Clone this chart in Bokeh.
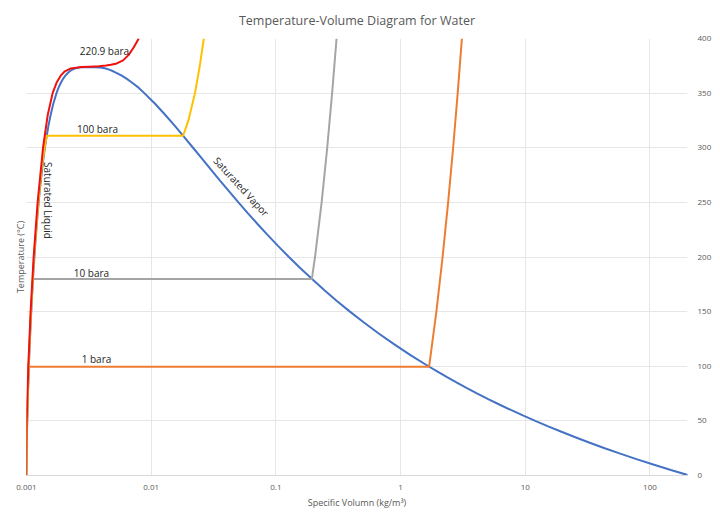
import math
from bokeh.plotting import figure
from bokeh.models import LinearAxis, Range1d, FixedTicker, PrintfTickFormatter, Label
from bokeh.embed import file_html
from bokeh.resources import INLINE

sat_T = [0.01, 5, 10, 15, 20, 25, 30, 35, 40, 45, 50, 55, 60, 65, 70, 75, 80, 85, 90, 95,
         100, 110, 120, 130, 140, 150, 160, 170, 180, 190, 200, 210, 220, 230, 240, 250,
         260, 270, 280, 290, 300, 310, 320, 330, 340, 350, 355, 360, 363, 366, 368, 370,
         371.5, 372.7, 373.5, 373.95]
sat_vf = [0.001000, 0.001000, 0.001000, 0.001001, 0.001002, 0.001003, 0.001004, 0.001006,
          0.001008, 0.001010, 0.001012, 0.001015, 0.001017, 0.001020, 0.001023, 0.001026,
          0.001029, 0.001032, 0.001036, 0.001040, 0.001043, 0.001052, 0.001060, 0.001070,
          0.001080, 0.001091, 0.001102, 0.001114, 0.001127, 0.001141, 0.001157, 0.001173,
          0.001190, 0.001209, 0.001229, 0.001252, 0.001276, 0.001303, 0.001333, 0.001366,
          0.001404, 0.001448, 0.001499, 0.001561, 0.001638, 0.001740, 0.001807, 0.001895,
          0.001962, 0.002050, 0.002125, 0.002222, 0.002330, 0.002470, 0.002650, 0.003106]
sat_vg = [206.00, 147.03, 106.32, 77.885, 57.762, 43.340, 32.879, 25.205, 19.515, 15.251,
          12.026, 9.5639, 7.6670, 6.1935, 5.0396, 4.1291, 3.4053, 2.8261, 2.3593, 1.9808,
          1.6720, 1.2094, 0.89133, 0.66808, 0.50850, 0.39248, 0.30666, 0.24260, 0.19405,
          0.15654, 0.12721, 0.10442, 0.08609, 0.07150, 0.05970, 0.05008, 0.04217, 0.03562,
          0.03015, 0.02556, 0.02166, 0.01834, 0.01548, 0.01298, 0.01079, 0.008806, 0.007920,
          0.006950, 0.006380, 0.005800, 0.005360, 0.004953, 0.004600, 0.004250, 0.003900,
          0.003106]

p1_T = [0, 25, 50, 75, 99.61, 99.61, 150, 200, 250, 300, 350, 400]
p1_v = [0.001000, 0.001003, 0.001012, 0.001026, 0.001043, 1.694, 1.9367, 2.1724, 2.4062,
        2.6389, 2.8710, 3.1027]

p10_T = [0, 50, 100, 150, 179.88, 179.88, 200, 250, 300, 350, 400]
p10_v = [0.001000, 0.001012, 0.001043, 0.001090, 0.001127, 0.19436, 0.20602, 0.23275,
         0.25799, 0.28250, 0.30661]

p100_T = [0, 50, 100, 150, 200, 250, 280, 300, 311.0, 311.0, 325, 350, 375, 400]
p100_v = [0.000995, 0.001008, 0.001038, 0.001085, 0.001149, 0.001245, 0.001319, 0.001397,
          0.001452, 0.018028, 0.019880, 0.022440, 0.024530, 0.026436]

p221_T = [0, 50, 100, 150, 200, 250, 300, 330, 350, 360, 366, 370, 372.5, 373.8, 374.2,
          374.6, 375.2, 375.9, 377.2, 380, 385, 392, 400]
p221_v = [0.000991, 0.001003, 0.001034, 0.001079, 0.001141, 0.001228, 0.001357, 0.001480,
          0.001620, 0.001750, 0.001880, 0.002030, 0.002250, 0.002700, 0.003200, 0.003800,
          0.004350, 0.004750, 0.005300, 0.005950, 0.006600, 0.007250, 0.007950]

x_ticks = [0.001, 0.01, 0.1, 1, 10, 100]
y_ticks = [0, 50, 100, 150, 200, 250, 300, 350, 400]

# ---------------- figure ----------------
FONT = "Open Sans"
GRAY = "#595959"

p = figure(width=720, height=523, x_axis_type="log",
           x_range=Range1d(0.001, 200), y_range=Range1d(0, 400),
           output_backend="svg", toolbar_location=None, y_axis_location="right",
           min_border_left=26, min_border_right=33, min_border_top=38, min_border_bottom=48,
           title="Temperature-Volume Diagram for Water")
p.outline_line_color = None
p.background_fill_color = "white"
p.border_fill_color = "white"

p.title.align = "center"
p.title.text_font = FONT
p.title.text_font_size = "12.5px"
p.title.text_font_style = "normal"
p.title.text_color = GRAY
p.title.standoff = 19

# x axis
xa = p.xaxis[0]
xa.ticker = FixedTicker(ticks=x_ticks)
xa.formatter = PrintfTickFormatter(format="%g")
xa.axis_label = "Specific Volumn (kg/m\u00b3)"
xa.axis_label_text_font = FONT
xa.axis_label_text_font_size = "9px"
xa.axis_label_text_font_style = "normal"
xa.axis_label_text_color = GRAY
xa.axis_label_standoff = 3
xa.major_label_text_font = FONT
xa.major_label_text_font_size = "8px"
xa.major_label_text_color = GRAY
xa.major_label_standoff = 3
xa.major_tick_line_color = None
xa.minor_tick_line_color = None
xa.axis_line_color = "#D9D9D9"

# y axis (right)
ya = p.yaxis[0]
ya.ticker = FixedTicker(ticks=y_ticks)
ya.major_label_text_font = FONT
ya.major_label_text_font_size = "8px"
ya.major_label_text_color = GRAY
ya.major_label_standoff = 4
ya.major_tick_line_color = None
ya.minor_tick_line_color = None
ya.axis_line_color = None

# left axis holding only the title
la = LinearAxis(ticker=FixedTicker(ticks=[]), axis_label="Temperature (\u00b0C)")
la.axis_label_text_font = FONT
la.axis_label_text_font_size = "9px"
la.axis_label_text_font_style = "normal"
la.axis_label_text_color = GRAY
la.axis_label_standoff = 0
la.axis_line_color = None
la.major_tick_line_color = None
la.minor_tick_line_color = None
la.major_tick_out = 0
la.major_label_text_font_size = "0px"
p.add_layout(la, "left")

p.xgrid.ticker = FixedTicker(ticks=x_ticks)
p.ygrid.ticker = FixedTicker(ticks=y_ticks)
p.xgrid.grid_line_color = "#E6E6E6"
p.ygrid.grid_line_color = "#E6E6E6"

# dome
dome_v = sat_vf + sat_vg[::-1][1:]
dome_T = sat_T + sat_T[::-1][1:]
LW = 2
p.line(dome_v, dome_T, line_color="#4472C4", line_width=LW)
p.line(p1_v, p1_T, line_color="#ED7D31", line_width=LW)
p.line(p10_v, p10_T, line_color="#A5A5A5", line_width=LW)
p.line(p100_v, p100_T, line_color="#FFC000", line_width=LW)
p.line(p221_v, p221_T, line_color="#F01010", line_width=LW)

# annotations
ann = [
    ("220.9 bara", 0.00422, 389, 0),
    ("100 bara", 0.00371, 317.6, 0),
    ("10 bara", 0.00332, 184.9, 0),
    ("1 bara", 0.00364, 106.2, 0),
    ("Saturated Liquid", 0.00149, 251.7, -math.pi / 2),
    ("Saturated Vapor", 0.0528, 264.5, -0.83),
]
for txt, x, y, ang in ann:
    p.add_layout(Label(x=x, y=y, text=txt, angle=ang, text_align="center",
                       text_baseline="middle", text_font=FONT, text_font_size="10px",
                       text_color="#262626"))

open("out.html", "w").write(file_html(p, INLINE))
